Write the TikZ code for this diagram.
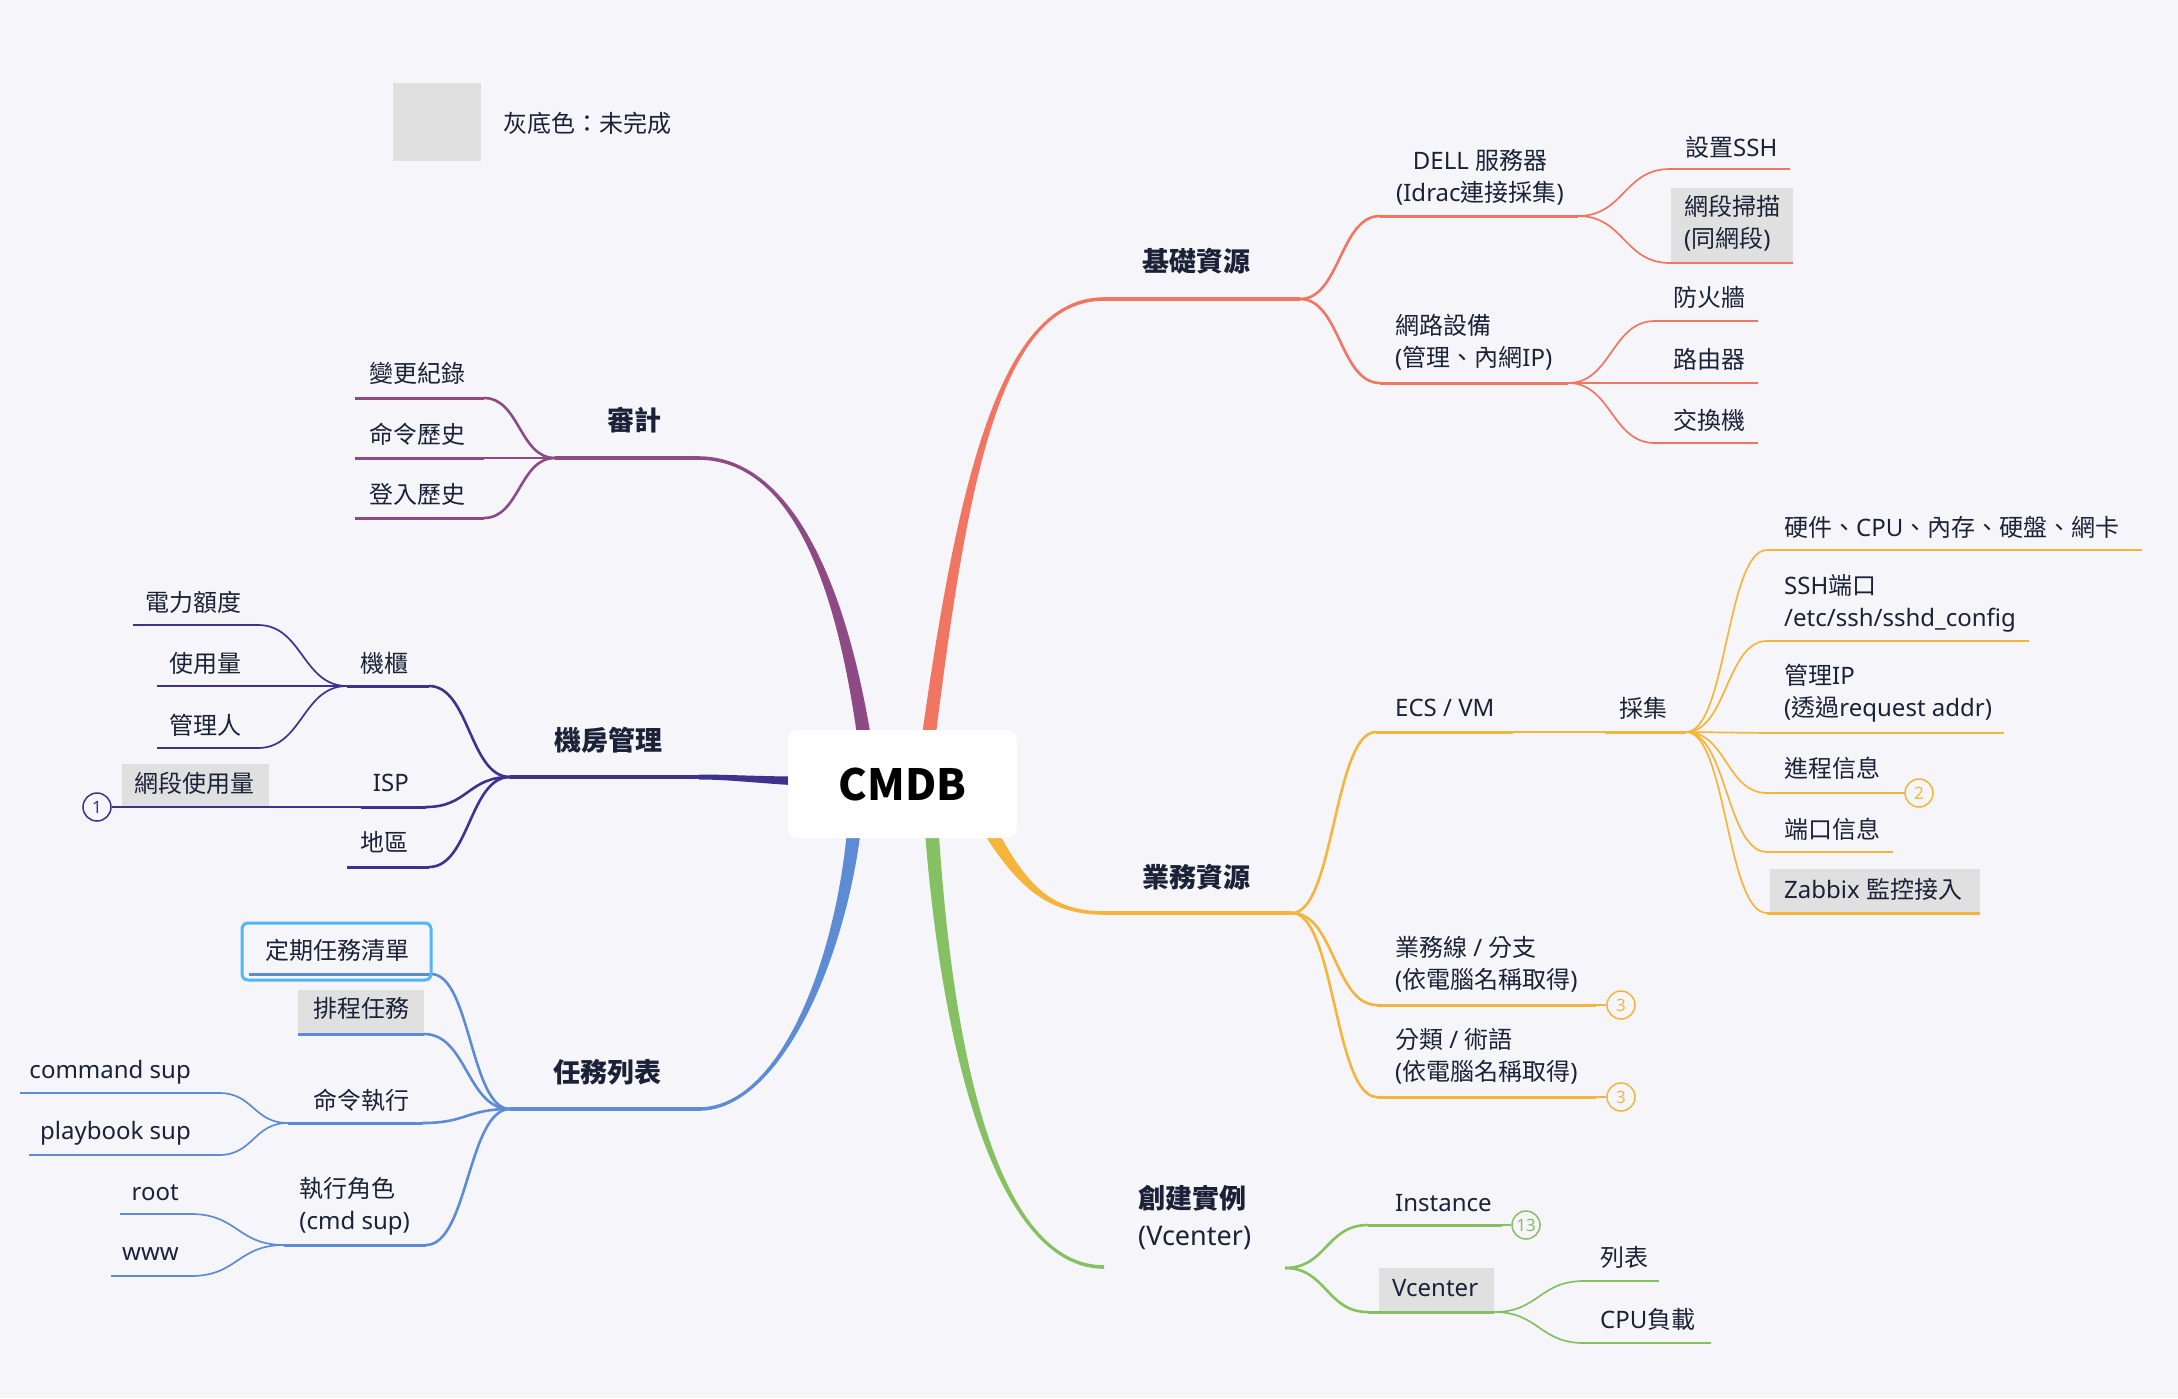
\documentclass[tikz,border=0pt]{standalone}
\usepackage{fontspec}
\setmainfont{Noto Sans}
\newfontfamily\cjk{Noto Sans CJK TC}
\usetikzlibrary{calc}
\definecolor{bg}{RGB}{246,246,250}
\definecolor{ink}{RGB}{27,34,56}
\definecolor{gbx}{RGB}{224,224,224}
\definecolor{cor}{RGB}{240,118,98}
\definecolor{cye}{RGB}{245,181,61}
\definecolor{cgr}{RGB}{133,193,98}
\definecolor{cbl}{RGB}{93,140,212}
\definecolor{cin}{RGB}{62,50,142}
\definecolor{cpu}{RGB}{142,74,132}
\definecolor{sel}{RGB}{80,182,245}
\begin{document}
\begin{tikzpicture}[x=1pt,y=-1pt,
  tx/.style={inner sep=0pt, text=ink, font=\fontsize{24}{32}\selectfont, align=left},
  txl/.style={tx, anchor=west},
  txr/.style={tx, anchor=east},
  topic/.style={inner sep=0pt, text=ink, font=\fontsize{27}{37}\selectfont\bfseries, align=left},
  sc/.style={to path={.. controls ($(\tikztostart)!0.5!(\tikztotarget|-\tikztostart)$) and ($(\tikztotarget)!0.5!(\tikztostart|-\tikztotarget)$) .. (\tikztotarget)}},
  L1/.style={line width=3.5pt},
  L2/.style={line width=3pt},
  C2/.style={line width=2.6pt},
  L3/.style={line width=1.7pt},
  badge/.style={circle, draw=#1, fill=bg, line width=1.5pt, minimum size=28pt, inner sep=0pt, text=#1, font=\fontsize{17}{17}\selectfont},
]
\fill[bg] (0,0) rectangle (2178,1398);
\useasboundingbox (0,0) rectangle (2178,1398);

% legend
\node[fill=gbx, minimum width=88, minimum height=78, inner sep=0pt] (legbox) at (437,122) {};
\node[txl] (legtxt) at (503,123) {{\cjk 灰底色：未完成}};

% ---------- main branches ----------
\coordinate (m1s) at (927,750);
\coordinate (m1a) at (962,480);
\coordinate (m1b) at (1000,299);
\coordinate (m1e) at (1104,299);
\fill[cor] ($(m1s)+(-7,0)$) .. controls ($(m1a)+(-5,0)$) and ($(m1b)+(0,-1.8)$) .. ($(m1e)+(0,-1.8)$) -- ($(m1e)+(0,1.8)$) .. controls ($(m1b)+(0,1.8)$) and ($(m1a)+(5,0)$) .. ($(m1s)+(7,0)$) -- cycle;

\coordinate (m5s) at (866,750);
\coordinate (m5a) at (842,580);
\coordinate (m5b) at (790,458);
\coordinate (m5e) at (698,458);
\fill[cpu] ($(m5s)+(7,0)$) .. controls ($(m5a)+(5,0)$) and ($(m5b)+(0,-1.8)$) .. ($(m5e)+(0,-1.8)$) -- ($(m5e)+(0,1.8)$) .. controls ($(m5b)+(0,1.8)$) and ($(m5a)+(-5,0)$) .. ($(m5s)+(-7,0)$) -- cycle;

\coordinate (m4s) at (855,820);
\coordinate (m4a) at (842,960);
\coordinate (m4b) at (780,1109);
\coordinate (m4e) at (699,1109);
\fill[cbl] ($(m4s)+(7,0)$) .. controls ($(m4a)+(5,0)$) and ($(m4b)+(0,1.8)$) .. ($(m4e)+(0,1.8)$) -- ($(m4e)+(0,-1.8)$) .. controls ($(m4b)+(0,-1.8)$) and ($(m4a)+(-5,0)$) .. ($(m4s)+(-7,0)$) -- cycle;

\coordinate (m3s) at (931,820);
\coordinate (m3a) at (950,1100);
\coordinate (m3b) at (1010,1267);
\coordinate (m3e) at (1104,1267);
\fill[cgr] ($(m3s)+(-7,0)$) .. controls ($(m3a)+(-5,0)$) and ($(m3b)+(0,1.8)$) .. ($(m3e)+(0,1.8)$) -- ($(m3e)+(0,-1.8)$) .. controls ($(m3b)+(0,-1.8)$) and ($(m3a)+(5,0)$) .. ($(m3s)+(7,0)$) -- cycle;

\coordinate (m2s) at (985,822);
\coordinate (m2a) at (1022,888);
\coordinate (m2b) at (1050,913);
\coordinate (m2e) at (1105,913);
\fill[cye] ($(m2s)+(-6.4,2.7)$) .. controls ($(m2a)+(-4.5,2)$) and ($(m2b)+(0,1.8)$) .. ($(m2e)+(0,1.8)$) -- ($(m2e)+(0,-1.8)$) .. controls ($(m2b)+(0,-1.8)$) and ($(m2a)+(4.5,-2)$) .. ($(m2s)+(6.4,-2.7)$) -- cycle;

\coordinate (m6s) at (800,781);
\coordinate (m6a) at (760,780);
\coordinate (m6b) at (730,777);
\coordinate (m6e) at (699,777);
\fill[cin] ($(m6s)+(0,-4.5)$) .. controls ($(m6a)+(0,-3.5)$) and ($(m6b)+(0,-2.5)$) .. ($(m6e)+(0,-2.5)$) -- ($(m6e)+(0,2.5)$) .. controls ($(m6b)+(0,2.5)$) and ($(m6a)+(0,3.5)$) .. ($(m6s)+(0,4.5)$) -- cycle;

% central topic
\node[fill=white, rounded corners=10pt, minimum width=229, minimum height=108, inner sep=0pt, text=black, font=\fontsize{43}{50}\selectfont\cjk\bfseries] (cmdb) at (902.5,784) {CMDB};

% ---------- 基礎資源 ----------
\coordinate (basic-e) at (1300,299);
\draw[L1,cor] (m1e) -- (basic-e);
\node[topic, anchor=west] (t-basic) at (1142,261) {{\cjk 基礎資源}};

\coordinate (dell-s) at (1380,216); \coordinate (dell-e) at (1578,216);
\coordinate (net-s) at (1380,383); \coordinate (net-e) at (1568,383);
\draw[C2,cor] (basic-e) to[sc] (dell-s);
\draw[C2,cor] (basic-e) to[sc] (net-s);
\draw[L2,cor] (dell-s) -- (dell-e);
\draw[L2,cor] (net-s) -- (net-e);
\node[tx, align=center] (t-dell) at (1480,177.5) {DELL {\cjk 服務器}\\(Idrac{\cjk 連接採集})};
\node[txl] (t-net) at (1395,342.5) {{\cjk 網路設備}\\({\cjk 管理、內網}IP)};

\coordinate (ssh-s) at (1670,169); \coordinate (ssh-e) at (1790,169);
\fill[gbx] (1671,188) rectangle (1793,263);
\coordinate (scan-s) at (1670,263); \coordinate (scan-e) at (1793,263);
\draw[L3,cor] (dell-e) to[sc] (ssh-s);
\draw[L3,cor] (dell-e) to[sc] (scan-s);
\draw[L3,cor] (ssh-s) -- (ssh-e);
\draw[L3,cor] (scan-s) -- (scan-e);
\node[txl] (t-ssh) at (1685,147) {{\cjk 設置}SSH};
\node[txl] (t-scan) at (1684,223) {{\cjk 網段掃描}\\({\cjk 同網段})};

\coordinate (fw-s) at (1655,321); \coordinate (fw-e) at (1758,321);
\coordinate (rt-s) at (1655,383); \coordinate (rt-e) at (1758,383);
\coordinate (sw-s) at (1655,443); \coordinate (sw-e) at (1758,443);
\draw[L3,cor] (net-e) to[sc] (fw-s);
\draw[L3,cor] (net-e) to[sc] (rt-s);
\draw[L3,cor] (net-e) to[sc] (sw-s);
\draw[L3,cor] (fw-s) -- (fw-e);
\draw[L3,cor] (rt-s) -- (rt-e);
\draw[L3,cor] (sw-s) -- (sw-e);
\node[txl] (t-fw) at (1673,297) {{\cjk 防火牆}};
\node[txl] (t-rt) at (1673,359) {{\cjk 路由器}};
\node[txl] (t-sw) at (1673,420) {{\cjk 交換機}};

% ---------- 業務資源 ----------
\coordinate (biz-e) at (1292,913);
\draw[L1,cye] (m2e) -- (biz-e);
\node[topic, anchor=west] (t-biz) at (1142,877) {{\cjk 業務資源}};

\coordinate (ecs-s) at (1376,732); \coordinate (ecs-e) at (1513,732);
\coordinate (line-s) at (1377,1005); \coordinate (line-e) at (1596,1005);
\coordinate (cat-s) at (1377,1097); \coordinate (cat-e) at (1596,1097);
\draw[C2,cye] (biz-e) to[sc] (ecs-s);
\draw[C2,cye] (biz-e) to[sc] (line-s);
\draw[C2,cye] (biz-e) to[sc] (cat-s);
\draw[L2,cye] (ecs-s) -- (ecs-e);
\node[badge=cye] (bd-line) at (1621,1005) {3};
\node[badge=cye] (bd-cat) at (1621,1097) {3};
\draw[L2,cye] (line-s) -- (line-e);
\draw[L3,cye] (line-e) -- (bd-line.west);
\draw[L2,cye] (cat-s) -- (cat-e);
\draw[L3,cye] (cat-e) -- (bd-cat.west);
\node[txl] (t-ecs) at (1395,708) {ECS / VM};
\node[txl] (t-line) at (1395,964) {{\cjk 業務線} / {\cjk 分支}\\({\cjk 依電腦名稱取得})};
\node[txl] (t-cat) at (1395,1056.5) {{\cjk 分類} / {\cjk 術語}\\({\cjk 依電腦名稱取得})};

\coordinate (col-s) at (1605,732); \coordinate (col-e) at (1686,732);
\draw[L3,cye] (ecs-e) -- (col-s);
\draw[L2,cye] (col-s) -- (col-e);
\node[txl] (t-col) at (1619,708) {{\cjk 採集}};

\coordinate (hw-s) at (1767,550); \coordinate (hw-e) at (2142,550);
\coordinate (sp-s) at (1767,641); \coordinate (sp-e) at (2029,641);
\coordinate (mip-s) at (1767,733); \coordinate (mip-e) at (2004,733);
\coordinate (pr-s) at (1767,793); \coordinate (pr-e) at (1905,793);
\coordinate (po-s) at (1767,852); \coordinate (po-e) at (1893,852);
\fill[gbx] (1770,869) rectangle (1980,913);
\coordinate (zb-s) at (1767,913); \coordinate (zb-e) at (1980,913);
\foreach \c in {hw,sp,mip,pr,po} {\draw[L3,cye] (col-e) to[sc] (\c-s); \draw[L3,cye] (\c-s) -- (\c-e);}
\draw[L3,cye] (col-e) to[sc] (zb-s);
\draw[L2,cye] (zb-s) -- (zb-e);
\node[badge=cye] (bd-pr) at (1919,793) {2};
\draw[L3,cye] (pr-e) -- (bd-pr.west);
\node[txl] (t-hw) at (1784,527) {{\cjk 硬件、}CPU{\cjk 、內存、硬盤、網卡}};
\node[txl] (t-sp) at (1784,603) {SSH{\cjk 端口}\\/etc/ssh/sshd\_config};
\node[txl] (t-mip) at (1784,693.5) {{\cjk 管理}IP\\({\cjk 透過}request addr)};
\node[txl] (t-pr) at (1784,768) {{\cjk 進程信息}};
\node[txl] (t-po) at (1784,829) {{\cjk 端口信息}};
\node[txl] (t-zb) at (1784,889) {Zabbix {\cjk 監控接入}};

% ---------- 創建實例 ----------
\coordinate (ci-e) at (1285,1268);
\node[topic, anchor=west] (t-ci) at (1138,1217.5) {{\cjk 創建實例}\\{\mdseries (Vcenter)}};
\coordinate (ins-s) at (1368,1225); \coordinate (ins-e) at (1502,1225);
\fill[gbx] (1379,1268) rectangle (1494,1312);
\coordinate (vc-s) at (1368,1312); \coordinate (vc-e) at (1494,1312);
\draw[C2,cgr] (ci-e) to[sc] (ins-s);
\draw[C2,cgr] (ci-e) to[sc] (vc-s);
\draw[L2,cgr] (ins-s) -- (ins-e);
\draw[L2,cgr] (vc-s) -- (vc-e);
\node[badge=cgr] (bd-ins) at (1526,1225) {13};
\draw[L3,cgr] (ins-e) -- (bd-ins.west);
\node[txl] (t-ins) at (1395,1203) {Instance};
\node[txl] (t-vc) at (1392,1288) {Vcenter};
\coordinate (lst-s) at (1584,1281); \coordinate (lst-e) at (1659,1281);
\coordinate (cpu-s) at (1584,1343); \coordinate (cpu-e) at (1711,1343);
\draw[L3,cgr] (vc-e) to[sc] (lst-s);
\draw[L3,cgr] (vc-e) to[sc] (cpu-s);
\draw[L3,cgr] (lst-s) -- (lst-e);
\draw[L3,cgr] (cpu-s) -- (cpu-e);
\node[txl] (t-lst) at (1600,1257) {{\cjk 列表}};
\node[txl] (t-cpu) at (1600,1319) {CPU{\cjk 負載}};

% ---------- 審計 ----------
\coordinate (audit-s) at (555,458);
\draw[L1,cpu] (audit-s) -- (m5e);
\node[topic, anchor=east] (t-audit) at (662,420) {{\cjk 審計}};
\coordinate (chg-s) at (355,398); \coordinate (chg-e) at (484,398);
\coordinate (cmh-s) at (355,458); \coordinate (cmh-e) at (484,458);
\coordinate (lgh-s) at (355,518); \coordinate (lgh-e) at (484,518);
\foreach \c in {chg,cmh,lgh} {\draw[C2,cpu] (audit-s) to[sc] (\c-e); \draw[L2,cpu] (\c-s) -- (\c-e);}
\node[txr] (t-chg) at (466,373) {{\cjk 變更紀錄}};
\node[txr] (t-cmh) at (466,434) {{\cjk 命令歷史}};
\node[txr] (t-lgh) at (466,494) {{\cjk 登入歷史}};

% ---------- 機房管理 ----------
\coordinate (room-s) at (510,777);
\draw[L1,cin] (room-s) -- (m6e);
\node[topic, anchor=east] (t-room) at (663,740) {{\cjk 機房管理}};
\coordinate (rack-s) at (347,686); \coordinate (rack-e) at (429,686);
\coordinate (isp-s) at (361,807); \coordinate (isp-e) at (426,807);
\coordinate (reg-s) at (347,867); \coordinate (reg-e) at (429,867);
\foreach \c in {rack,isp,reg} {\draw[C2,cin] (room-s) to[sc] (\c-e); \draw[L2,cin] (\c-s) -- (\c-e);}
\node[txr] (t-rack) at (409,663) {{\cjk 機櫃}};
\node[txr] (t-isp) at (409,783) {ISP};
\node[txr] (t-reg) at (409,842) {{\cjk 地區}};
\coordinate (pw-s) at (133,625); \coordinate (pw-e) at (258,625);
\coordinate (use-s) at (157,686); \coordinate (use-e) at (258,686);
\coordinate (mgr-s) at (157,748); \coordinate (mgr-e) at (258,748);
\foreach \c in {pw,use,mgr} {\draw[L3,cin] (rack-s) to[sc] (\c-e); \draw[L3,cin] (\c-s) -- (\c-e);}
\node[txr] (t-pw) at (242,602) {{\cjk 電力額度}};
\node[txr] (t-use) at (242,663) {{\cjk 使用量}};
\node[txr] (t-mgr) at (242,725) {{\cjk 管理人}};
\fill[gbx] (122,764) rectangle (269,807);
\coordinate (seg-e) at (269,807);
\node[badge=cin] (bd-seg) at (97,807) {1};
\draw[L3,cin] (isp-s) -- (seg-e);
\draw[L3,cin] (seg-e) -- (bd-seg.east);
\node[txr] (t-seg) at (255,783) {{\cjk 網段使用量}};

% ---------- 任務列表 ----------
\coordinate (task-s) at (510,1109);
\draw[L1,cbl] (task-s) -- (m4e);
\node[topic, anchor=east] (t-task) at (662,1072) {{\cjk 任務列表}};
\coordinate (per-s) at (249,974); \coordinate (per-e) at (431,974);
\fill[gbx] (298,990) rectangle (424,1034);
\coordinate (sch-s) at (298,1034); \coordinate (sch-e) at (424,1034);
\coordinate (cmd-s) at (288,1123); \coordinate (cmd-e) at (423,1123);
\coordinate (role-s) at (284,1245); \coordinate (role-e) at (426,1245);
\foreach \c in {per,sch,cmd,role} {\draw[C2,cbl] (task-s) to[sc] (\c-e); \draw[L2,cbl] (\c-s) -- (\c-e);}
\draw[sel, line width=3pt, rounded corners=6pt] (242,923) rectangle (431,980);
\node[txr] (t-per) at (410,950) {{\cjk 定期任務清單}};
\node[txr] (t-sch) at (410,1008) {{\cjk 排程任務}};
\node[txr] (t-cmd) at (410,1100) {{\cjk 命令執行}};
\node[txr] (t-role) at (410,1206.5) {{\cjk 執行角色}\\(cmd sup)};
\coordinate (cs-s) at (20,1093); \coordinate (cs-e) at (219,1093);
\coordinate (ps-s) at (29,1155); \coordinate (ps-e) at (219,1155);
\foreach \c in {cs,ps} {\draw[L3,cbl] (cmd-s) to[sc] (\c-e); \draw[L3,cbl] (\c-s) -- (\c-e);}
\node[txr] (t-cs) at (191,1072) {command sup};
\node[txr] (t-ps) at (191,1133) {playbook sup};
\coordinate (root-s) at (120,1214); \coordinate (root-e) at (191,1214);
\coordinate (www-s) at (111,1276); \coordinate (www-e) at (191,1276);
\foreach \c in {root,www} {\draw[L3,cbl] (role-s) to[sc] (\c-e); \draw[L3,cbl] (\c-s) -- (\c-e);}
\node[txr] (t-root) at (179,1193) {root};
\node[txr] (t-www) at (179,1254) {www};
\end{tikzpicture}
\end{document}
